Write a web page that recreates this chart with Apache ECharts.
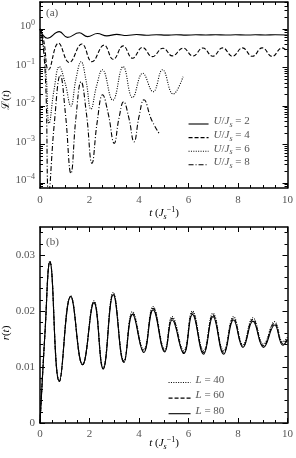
<!DOCTYPE html>
<html><head><meta charset="utf-8">
<script src="https://cdn.jsdelivr.net/npm/echarts@6/dist/echarts.min.js"></script>
<style>html,body{margin:0;padding:0;background:#fff}#c{width:296px;height:458px}</style>
</head><body><div id="c"></div>
<script>
// ---------------- data ----------------
const tTicks = [0, 2, 4, 6, 8, 10];
const echoDecades = [1e-4, 1e-3, 1e-2, 1e-1, 1];
const rTicks = [0, 0.01, 0.02, 0.03];
const rMinorTicks = [0.002, 0.004, 0.006, 0.008, 0.012, 0.014, 0.016, 0.018, 0.022, 0.024, 0.026, 0.028, 0.032, 0.034];
const uValues = [2, 4, 6, 8];
const lValues = [40, 60, 80];

// panel (a): Loschmidt echo
const tU2 = [0, 0.3, 0.78, 1.11, 1.59, 1.92, 2.32, 2.7, 3.1, 3.5, 3.9, 4.3, 4.7, 5.1, 5.5, 5.9, 6.3, 6.7, 7.1, 7.5, 7.9, 8.3, 8.7, 9.1, 9.5, 10];
const echoU2 = [1, 0.575, 0.851, 0.603, 0.794, 0.631, 0.759, 0.661, 0.724, 0.676, 0.715, 0.685, 0.71, 0.69, 0.708, 0.692, 0.705, 0.695, 0.706, 0.694, 0.705, 0.695, 0.704, 0.696, 0.704, 0.698];

const tU4 = [0, 0.15, 0.35, 0.75, 1.18, 1.69, 2.10, 2.59, 2.96, 3.36, 3.74, 4.14, 4.54, 4.97, 5.35, 5.78, 6.18, 6.58, 6.98, 7.38, 7.78, 8.18, 8.58, 8.98, 9.38, 9.78, 10];
const echoU4 = [1, 0.5, 0.087, 0.427, 0.135, 0.407, 0.141, 0.380, 0.162, 0.363, 0.174, 0.331, 0.191, 0.316, 0.2, 0.318, 0.198, 0.32, 0.196, 0.322, 0.195, 0.322, 0.195, 0.322, 0.194, 0.322, 0.26];

const tU6 = [0, 0.12, 0.25, 0.37, 0.57, 0.78, 1.01, 1.25, 1.45, 1.66, 1.86, 2.06, 2.29, 2.52, 2.94, 3.36, 3.74, 4.15, 4.57, 4.95, 5.38, 5.78];
const echoU6 = [1, 0.447, 0.0631, 0.00355, 0.0269, 0.105, 0.0407, 0.01, 0.049, 0.141, 0.0457, 0.0083, 0.0339, 0.0871, 0.0141, 0.105, 0.0166, 0.0708, 0.0234, 0.0871, 0.0204, 0.0575];

const tU8 = [0, 0.12, 0.24, 0.35, 0.58, 0.82, 1.03, 1.25, 1.45, 1.66, 1.88, 2.10, 2.31, 2.53, 2.76, 3.0, 3.19, 3.38, 3.59, 3.80, 4.0, 4.2, 4.5, 4.81];
const echoU8 = [1, 0.398, 0.0251, 0.00005, 0.00363, 0.0631, 0.00603, 0.000178, 0.00479, 0.0427, 0.00603, 0.000324, 0.0038, 0.0195, 0.00617, 0.00107, 0.00479, 0.0129, 0.0049, 0.00117, 0.00525, 0.0145, 0.00447, 0.00195];

// panel (b): r(t)
const tR = [0, 0.2, 0.4, 0.78, 1.24, 1.72, 2.18, 2.55, 2.96, 3.39, 3.74, 4.19, 4.57, 5.04, 5.34, 5.81, 6.16, 6.61, 6.99, 7.42, 7.82, 8.2, 8.6, 9.03, 9.48, 9.81, 10];
const rL40 = [0, 0.016, 0.0289, 0.0075, 0.0227, 0.0105, 0.0218, 0.0099, 0.0233, 0.0111, 0.0199, 0.0131, 0.0208, 0.0132, 0.0190, 0.0129, 0.0200, 0.0129, 0.0196, 0.0129, 0.0190, 0.0140, 0.0188, 0.0141, 0.0181, 0.0145, 0.0153];
const rL60 = [0, 0.016, 0.0288, 0.0074, 0.0226, 0.0104, 0.0216, 0.0097, 0.0231, 0.0109, 0.0196, 0.0128, 0.0205, 0.0129, 0.0187, 0.0126, 0.0197, 0.0126, 0.0193, 0.0126, 0.0187, 0.0137, 0.0185, 0.0138, 0.0178, 0.0142, 0.0150];
const rL80 = [0, 0.016, 0.0288, 0.0074, 0.0226, 0.0104, 0.0215, 0.0096, 0.0229, 0.0108, 0.0194, 0.0126, 0.0202, 0.0127, 0.0184, 0.0124, 0.0194, 0.0123, 0.0190, 0.0123, 0.0184, 0.0135, 0.0182, 0.0135, 0.0175, 0.0139, 0.0148];

// ---------------- chart ----------------
const FONT = "'Liberation Serif', 'DejaVu Serif', serif";
const TXT = '#555';
const echoMin = 7.41e-5, echoMax = 5.01;

// minor log ticks 2..9 x 10^n
const echoMinor = [];
[1e-5, 1e-4, 1e-3, 1e-2, 1e-1, 1].forEach(d => { for (let k = 2; k <= 9; k++) { const v = k * d; if (v > echoMin && v < echoMax) echoMinor.push(v); } });

const rich = {
  n: {fontFamily: FONT, fontSize: 11, lineHeight: 10, color: TXT, verticalAlign: 'bottom', padding: [0, 0, 2, 0]},
  i: {fontFamily: FONT, fontSize: 11, lineHeight: 10, color: TXT, fontStyle: 'italic', verticalAlign: 'bottom', padding: [0, 0, 2, 0]},
  s: {fontFamily: FONT, fontSize: 8, lineHeight: 8, color: TXT, fontStyle: 'italic', verticalAlign: 'bottom', padding: [0, 0, 0, 0]},
  p: {fontFamily: FONT, fontSize: 8, lineHeight: 8, color: TXT, verticalAlign: 'bottom', padding: [0, 0, 7, 0]},
  c: {fontFamily: "'DejaVu Serif', serif", fontSize: 11, lineHeight: 10, color: TXT, verticalAlign: 'bottom', padding: [0, 0, 2, 0]}
};

const BLACK = '#000';
function xAx(grid, pos, labels, margin) {
  return {
    type: 'value', gridIndex: grid, position: pos, min: 0, max: 10, interval: 2,
    axisLine: {show: true, onZero: false, lineStyle: {color: BLACK, width: 1.5}},
    axisTick: {show: true, inside: true, length: 5, lineStyle: {color: BLACK, width: 1}},
    minorTick: {show: true, splitNumber: 4, length: 3, lineStyle: {color: BLACK, width: 1}},
    splitLine: {show: false}, minorSplitLine: {show: false},
    axisLabel: {show: labels, margin: margin, color: TXT, fontFamily: FONT, fontSize: 11,
      customValues: tTicks}
  };
}
function yLog(pos, ticks, len, labels, line) {
  return {
    type: 'log', logBase: 10, gridIndex: 0, position: pos, min: echoMin, max: echoMax,
    axisLine: {show: line, onZero: false, lineStyle: {color: BLACK, width: 1.5}},
    axisTick: {show: true, inside: true, length: len, customValues: ticks, lineStyle: {color: BLACK, width: 1}},
    axisLabel: labels ? {
      show: true, margin: 5, customValues: echoDecades,
      formatter: v => { const e = Math.round(Math.log10(v)); return '{n|10}{p|' + (e < 0 ? '−' + (-e) : e) + '}'; },
      rich: rich
    } : {show: false},
    splitLine: {show: false}, minorSplitLine: {show: false}
  };
}
function yLin(pos, ticks, len, labels, line) {
  return {
    type: 'value', gridIndex: 1, position: pos, min: 0, max: 0.035,
    axisLine: {show: line, onZero: false, lineStyle: {color: BLACK, width: 1.5}},
    axisTick: {show: true, inside: true, length: len, customValues: ticks, lineStyle: {color: BLACK, width: 1}},
    axisLabel: labels ? {show: true, margin: 5, customValues: rTicks, color: TXT, fontFamily: FONT, fontSize: 11,
      formatter: v => String(+v.toFixed(3))} : {show: false},
    splitLine: {show: false}, minorSplitLine: {show: false}
  };
}

const zip = (a, b) => a.map((t, i) => [t, b[i]]);
function line(name, xi, yi, t, v, dash) {
  return {
    name: name, type: 'line', xAxisIndex: xi, yAxisIndex: yi, data: zip(t, v),
    symbol: 'none', showSymbol: false, smooth: 0.45, clip: true, silent: true,
    color: BLACK, itemStyle: {color: BLACK},
    lineStyle: {color: BLACK, width: 1.1, type: dash}
  };
}
const DASH = [4, 2], DOT = [1, 1.4], DASHDOT = [5, 2, 1, 2];

const uNames = uValues.map(u => 'U' + u);
const lNames = lValues.map(l => 'L' + l);

const legendBase = {orient: 'vertical', padding: 0, itemHeight: 12, selectedMode: false,
  itemStyle: {opacity: 0, borderWidth: 0}, lineStyle: {width: 1.1}, textStyle: {rich: rich}};

const chart = echarts.init(document.getElementById('c'), null, {renderer: 'canvas'});
chart.setOption({
  animation: false,
  backgroundColor: '#fff',
  grid: [
    {left: 40, right: 8, top: 2, height: 186},
    {left: 40, right: 8, top: 227, height: 196}
  ],
  xAxis: [xAx(0, 'bottom', true, 7), xAx(0, 'top', false, 7), xAx(1, 'bottom', true, 6), xAx(1, 'top', false, 6)],
  yAxis: [
    yLog('left', echoDecades, 5, true, true), yLog('left', echoMinor, 3, false, false),
    yLog('right', echoDecades, 5, false, true), yLog('right', echoMinor, 3, false, false),
    yLin('left', rTicks, 5, true, true), yLin('left', rMinorTicks, 3, false, false),
    yLin('right', rTicks, 5, false, true), yLin('right', rMinorTicks, 3, false, false)
  ],
  legend: [
    Object.assign({}, legendBase, {data: uNames, left: 188, top: 116, itemWidth: 20, itemGap: 0.6,
      formatter: n => '{i|U}{n|/}{i|J}{s|s}{n| = ' + n.slice(1) + '}'}),
    Object.assign({}, legendBase, {data: lNames, left: 168, top: 374.5, itemWidth: 22, itemGap: 2.6,
      formatter: n => '{i|L}{n| = ' + n.slice(1) + '}'})
  ],
  graphic: [
    {type: 'text', left: 46, top: 8, style: {text: '(a)', fill: TXT, font: '11px ' + FONT}},
    {type: 'text', left: 46, top: 237, style: {text: '(b)', fill: TXT, font: '11px ' + FONT}},
    {type: 'text', x: 164, y: 216, style: {text: '{i|t}{n| (}{i|J}{s|s}{p|−1}{n|)}', rich: rich, align: 'center', verticalAlign: 'middle'}},
    {type: 'text', x: 164, y: 446, style: {text: '{i|t}{n| (}{i|J}{s|s}{p|−1}{n|)}', rich: rich, align: 'center', verticalAlign: 'middle'}},
    {type: 'text', x: 9, y: 100, rotation: Math.PI / 2, style: {text: '{c|ℒ}{n|(}{i|t}{n|)}', rich: rich, align: 'center', verticalAlign: 'middle'}},
    {type: 'text', x: 9, y: 333, rotation: Math.PI / 2, style: {text: '{i|r}{n|(}{i|t}{n|)}', rich: rich, align: 'center', verticalAlign: 'middle'}}
  ],
  series: [
    line('U2', 0, 0, tU2, echoU2, 'solid'),
    line('U4', 0, 0, tU4, echoU4, DASH),
    line('U6', 0, 0, tU6, echoU6, DOT),
    line('U8', 0, 0, tU8, echoU8, DASHDOT),
    line('L40', 2, 4, tR, rL40, DOT),
    line('L60', 2, 4, tR, rL60, DASH),
    line('L80', 2, 4, tR, rL80, 'solid')
  ]
});
</script></body></html>
